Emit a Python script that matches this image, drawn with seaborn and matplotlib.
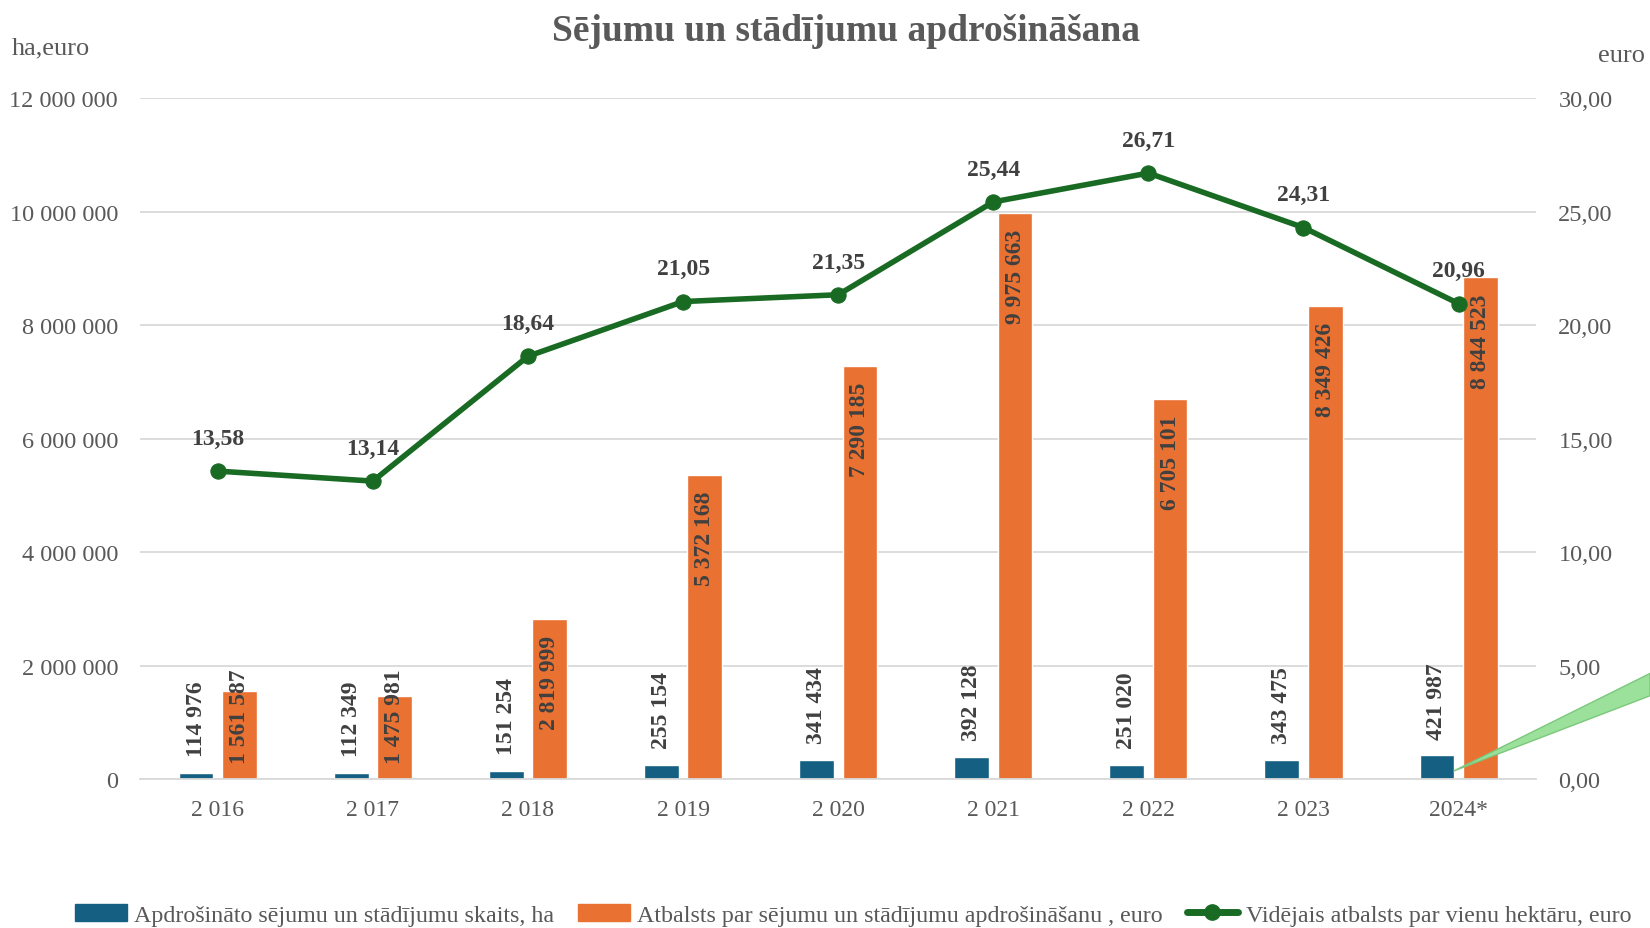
"""
Sējumu un stādījumu apdrošināšana - combo chart (bars + line on secondary axis)
"""

import numpy as np
import pandas as pd
import matplotlib
matplotlib.use("Agg")
import matplotlib.pyplot as plt
from matplotlib.patches import Polygon
import seaborn as sns

# ─────────────────────────────────────────────
# Data
# ─────────────────────────────────────────────
years = ["2 016", "2 017", "2 018", "2 019", "2 020", "2 021", "2 022", "2 023", "2024*"]
area_ha = [114976, 112349, 151254, 255154, 341434, 392128, 251020, 343475, 421987]
support_eur = [1561587, 1475981, 2819999, 5372168, 7290185, 9975663, 6705101, 8349426, 8844523]
support_per_ha = [13.58, 13.14, 18.64, 21.05, 21.35, 25.44, 26.71, 24.31, 20.96]

series_names = [
    "Apdrošināto sējumu un stādījumu skaits, ha",
    "Atbalsts par sējumu un stādījumu apdrošināšanu , euro",
    "Vidējais atbalsts par vienu hektāru, euro",
]

BLUE = "#156082"
ORANGE = "#E97132"
GREEN = "#196B24"
TEXT = "#595959"
LABEL = "#404040"


def fmt_space(v):
    return f"{v:,.0f}".replace(",", " ")


def fmt_comma(v):
    return f"{v:.2f}".replace(".", ",")


# ─────────────────────────────────────────────
# Plot
# ─────────────────────────────────────────────
sns.set_theme(style="white")
plt.rcParams["font.family"] = ["Liberation Serif", "DejaVu Serif"]

df = pd.DataFrame({
    "year": years * 2,
    "value": area_ha + support_eur,
    "series": [series_names[0]] * len(years) + [series_names[1]] * len(years),
})

fig = plt.figure(figsize=(16.5, 9.29), dpi=100)
ax = fig.add_axes([0.085, 0.160, 0.846, 0.733])

sns.barplot(data=df, x="year", y="value", hue="series", order=years,
            palette=[BLUE, ORANGE], width=0.56, gap=0.2, saturation=1,
            ax=ax, legend=False)

ax.set_xlim(-0.5, len(years) - 0.5)
ax.set_ylim(0, 12_000_000)
ax.set_yticks(np.arange(0, 12_000_001, 2_000_000))
ax.set_yticklabels([fmt_space(v) for v in ax.get_yticks()])
ax.yaxis.grid(True, color="#D9D9D9", linewidth=1.3)
ax.set_axisbelow(True)
for s in ["top", "left", "right"]:
    ax.spines[s].set_visible(False)
ax.spines["bottom"].set_color("#D9D9D9")
ax.spines["bottom"].set_linewidth(1.3)
ax.tick_params(axis="y", length=0, labelsize=17.5, labelcolor=TEXT, pad=16)
ax.tick_params(axis="x", length=0, labelsize=17, labelcolor=TEXT, pad=14)
ax.set_xlabel("")
ax.set_ylabel("")

# bar labels
blue_bars, orange_bars = ax.containers[0], ax.containers[1]
for bar, v in zip(blue_bars, area_ha):
    ax.annotate(fmt_space(v), (bar.get_x() + bar.get_width() / 2, v),
                xytext=(0, 12), textcoords="offset points", rotation=90,
                ha="center", va="bottom", fontsize=17, fontweight="bold", color=LABEL)
for bar, v in zip(orange_bars, support_eur):
    top = max(v - 280_000, 1_950_000)
    ax.annotate(fmt_space(v), (bar.get_x() + bar.get_width() / 2, top),
                rotation=90, ha="center", va="top", fontsize=17,
                fontweight="bold", color=LABEL)

# secondary axis line
ax2 = ax.twinx()
sns.lineplot(x=np.arange(len(years)), y=support_per_ha, ax=ax2, color=GREEN,
             linewidth=4, marker="o", markersize=11, markeredgecolor=GREEN)
ax2.set_ylim(0, 30)
ax2.set_yticks(np.arange(0, 30.1, 5))
ax2.set_yticklabels([fmt_comma(v) for v in ax2.get_yticks()])
ax2.tick_params(axis="y", length=0, labelsize=17.5, labelcolor=TEXT, pad=16)
for s in ax2.spines.values():
    s.set_visible(False)
ax2.grid(False)
for i, v in enumerate(support_per_ha):
    ax2.annotate(fmt_comma(v), (i, v), xytext=(0, 16), textcoords="offset points",
                 ha="center", va="bottom", fontsize=17, fontweight="bold", color=LABEL)

# titles / axis units
fig.text(0.513, 0.966, "Sējumu un stādījumu apdrošināšana", ha="center", va="center",
         fontsize=27, fontweight="bold", color=TEXT)
fig.text(0.007, 0.948, "ha,euro", ha="left", va="center", fontsize=19, color=TEXT)
fig.text(0.997, 0.940, "euro", ha="right", va="center", fontsize=19, color=TEXT)

# stray green wedge in the original
wedge = Polygon([[0.881, 0.169], [1.0, 0.274], [1.0, 0.250]], closed=True,
                transform=fig.transFigure, facecolor="#9BE09B", edgecolor="#7CC87C",
                linewidth=1, zorder=5)
fig.patches.append(wedge)

# legend
handles = [
    plt.Rectangle((0, 0), 1, 1, color=BLUE),
    plt.Rectangle((0, 0), 1, 1, color=ORANGE),
    plt.Line2D([0], [0], color=GREEN, linewidth=5, marker="o", markersize=11),
]
fig.legend(handles, series_names, loc="center", bbox_to_anchor=(0.517, 0.014),
           ncol=3, frameon=False, fontsize=17.3, labelcolor=TEXT,
           handlelength=2.15, handletextpad=0.3, columnspacing=1.0)

fig.savefig("out.png", dpi=100)
